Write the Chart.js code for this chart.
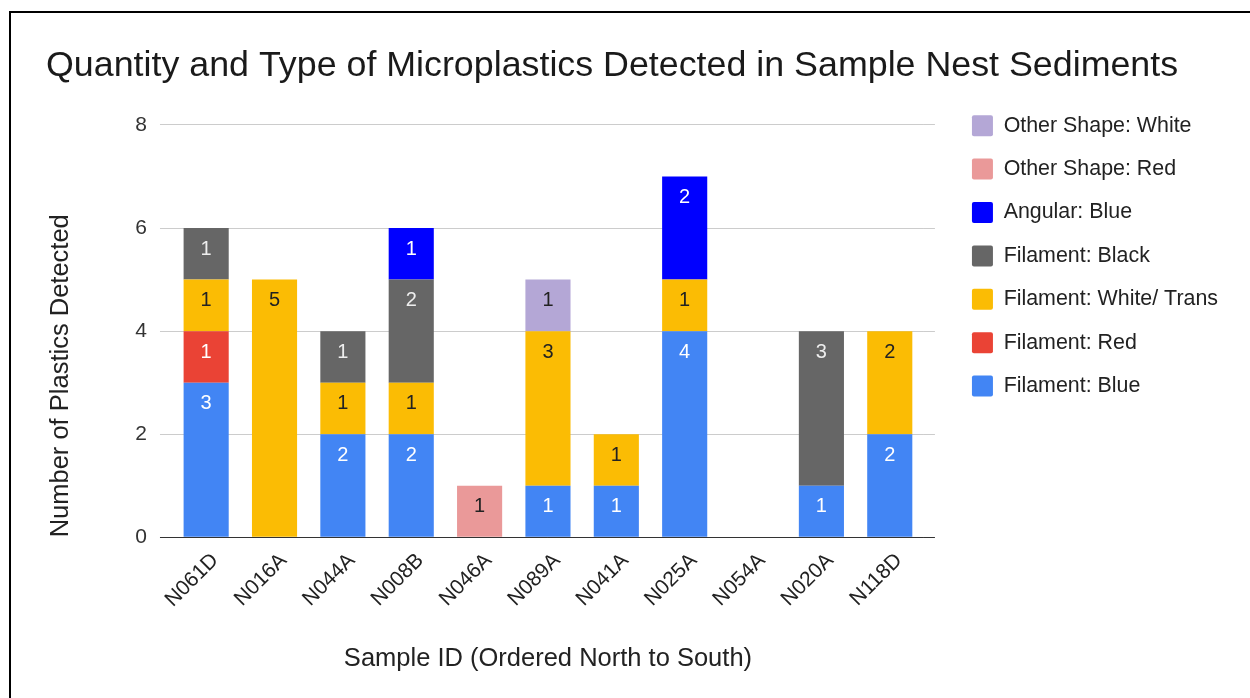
<!DOCTYPE html>
<html>
<head>
<meta charset="utf-8">
<title>Microplastics in Sample Nest Sediments</title>
<script src="https://cdn.jsdelivr.net/npm/chart.js@4.4.1/dist/chart.umd.min.js"></script>
<style>
  html, body { margin: 0; padding: 0; background: #fff; overflow: hidden; }
  #frame { position: absolute; left: 9px; top: 11px; width: 1300px; height: 800px;
           border-left: 2px solid #000; border-top: 2px solid #000; }
  #wrap { position: absolute; left: 0; top: 0; width: 1250px; height: 698px; }
</style>
</head>
<body>
<div id="frame"></div>
<div id="wrap"><canvas id="bar-chart"></canvas></div>
<script>
// Sample IDs, ordered north to south
const categories = ["N061D", "N016A", "N044A", "N008B", "N046A", "N089A", "N041A", "N025A", "N054A", "N020A", "N118D"];

// counts per plastic type
const filamentBlue  = [3, 0, 2, 2, 0, 1, 1, 4, 0, 1, 2];
const filamentRed   = [1, 0, 0, 0, 0, 0, 0, 0, 0, 0, 0];
const filamentWhite = [1, 5, 1, 1, 0, 3, 1, 1, 0, 0, 2];
const filamentBlack = [1, 0, 1, 2, 0, 0, 0, 0, 0, 3, 0];
const angularBlue   = [0, 0, 0, 1, 0, 0, 0, 2, 0, 0, 0];
const otherRed      = [0, 0, 0, 0, 1, 0, 0, 0, 0, 0, 0];
const otherWhite    = [0, 0, 0, 0, 0, 1, 0, 0, 0, 0, 0];

const yTicks = [0, 2, 4, 6, 8];

Chart.defaults.font.family = "'Liberation Sans', Arial, sans-serif";
Chart.defaults.color = "#222";

const gridColor = (ctx) => (ctx.tick && ctx.tick.value === 0) ? "#333" : "#ccc";

// numbers inside each bar segment, placed near the segment top
const segmentLabels = {
  id: "segmentLabels",
  afterDatasetsDraw(chart) {
    const ctx = chart.ctx;
    ctx.save();
    ctx.font = "20px 'Liberation Sans', Arial, sans-serif";
    ctx.textAlign = "center";
    ctx.textBaseline = "middle";
    chart.data.datasets.forEach((ds, i) => {
      const meta = chart.getDatasetMeta(i);
      meta.data.forEach((bar, j) => {
        const v = ds.data[j];
        if (!v) return;
        ctx.fillStyle = ds.labelColor;
        ctx.fillText(String(v), bar.x, bar.y + 21);
      });
    });
    ctx.restore();
  }
};

new Chart(document.getElementById("bar-chart"), {
  type: "bar",
  data: {
    labels: categories,
    datasets: [
      { label: "Filament: Blue", data: filamentBlue, backgroundColor: "#4285f4", labelColor: "#fff" },
      { label: "Filament: Red", data: filamentRed, backgroundColor: "#ea4335", labelColor: "#fff" },
      { label: "Filament: White/ Trans", data: filamentWhite, backgroundColor: "#fbbc04", labelColor: "#222" },
      { label: "Filament: Black", data: filamentBlack, backgroundColor: "#666666", labelColor: "#eee" },
      { label: "Angular: Blue", data: angularBlue, backgroundColor: "#0000ff", labelColor: "#fff" },
      { label: "Other Shape: Red", data: otherRed, backgroundColor: "#ea9999", labelColor: "#222" },
      { label: "Other Shape: White", data: otherWhite, backgroundColor: "#b4a7d6", labelColor: "#222" }
    ]
  },
  options: {
    responsive: true,
    maintainAspectRatio: false,
    animation: false,
    datasets: { bar: { barPercentage: 0.66, categoryPercentage: 1 } },
    layout: { padding: { left: 46, top: 20, right: 22, bottom: 24 } },
    plugins: {
      tooltip: { enabled: false },
      title: {
        display: true,
        text: "Quantity and Type of Microplastics Detected in Sample Nest Sediments",
        align: "start",
        color: "#1a1a1a",
        font: { size: 35.8, weight: "normal" },
        padding: { top: 25, bottom: 37 }
      },
      legend: {
        position: "right",
        align: "start",
        reverse: true,
        maxWidth: 290,
        title: { display: true, text: "", font: { size: 12 }, padding: { top: 58.6, bottom: 0 } },
        labels: {
          boxWidth: 21,
          boxHeight: 21,
          padding: 22,
          useBorderRadius: true,
          borderRadius: 2,
          color: "#222",
          font: { size: 21.4 }
        }
      }
    },
    scales: {
      x: {
        stacked: true,
        grid: { display: false },
        border: { display: false },
        ticks: { autoSkip: false, minRotation: 45, maxRotation: 45, padding: 3, labelOffset: 9, color: "#222", font: { size: 21 } },
        title: {
          display: true,
          text: "Sample ID (Ordered North to South)",
          color: "#222",
          font: { size: 25.5 },
          padding: { top: 28, bottom: 0 }
        }
      },
      y: {
        stacked: true,
        min: 0,
        max: 8,
        afterBuildTicks: (scale) => { scale.ticks = yTicks.map(v => ({ value: v })); },
        grid: { color: gridColor, tickColor: gridColor, tickLength: 12 },
        border: { display: false },
        ticks: { padding: 13, color: "#333", font: { size: 21 } },
        title: {
          display: true,
          text: "Number of Plastics Detected",
          align: "start",
          color: "#222",
          font: { size: 25.5 },
          padding: { top: 0, bottom: 45.7 }
        }
      },
      // right-hand axis only to let the gridlines run a little past the bars
      y2: {
        position: "right",
        min: 0,
        max: 8,
        afterBuildTicks: (scale) => { scale.ticks = yTicks.map(v => ({ value: v })); },
        afterFit: (scale) => { scale.width = 26; },
        grid: { drawOnChartArea: false, color: gridColor, tickColor: gridColor, tickLength: 11 },
        border: { display: false },
        ticks: { display: false }
      }
    }
  },
  plugins: [segmentLabels]
});
</script>
</body>
</html>
